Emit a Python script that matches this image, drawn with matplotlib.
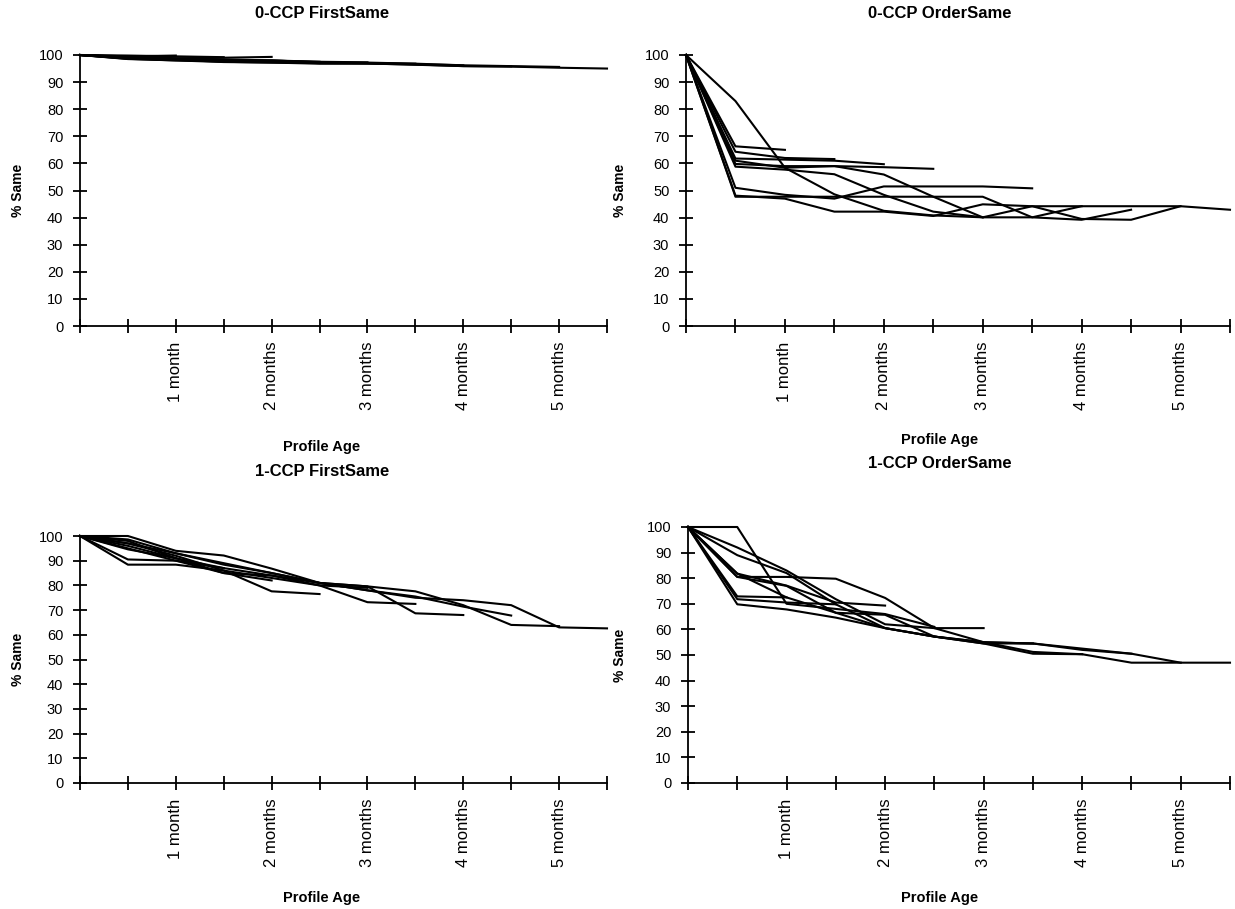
import matplotlib
matplotlib.use("Agg")
from matplotlib import pyplot as plt

plt.rcParams['font.family'] = ['Liberation Sans', 'DejaVu Sans']

TICK_LABELS = ['', '', '1 month', '', '2 months', '', '3 months', '', '4 months', '', '5 months', '']
Y_TICKS = list(range(0, 101, 10))

# each panel: one list per profile, starting at 100 and getting one point longer each time
FIRST_0 = [
    [100, 99.5, 99.8],
    [100, 99.8, 99.5, 99.2],
    [100, 99.0, 98.8, 99.0, 99.3],
    [100, 98.5, 98.0, 97.8, 98.0, 97.5],
    [100, 99.2, 98.5, 98.2, 97.9, 97.5, 97.3],
    [100, 98.8, 98.2, 97.5, 97.2, 97.0, 97.0, 96.8],
    [100, 99.0, 98.5, 98.0, 97.5, 97.2, 97.0, 96.6, 96.2],
    [100, 98.6, 98.0, 97.4, 97.2, 96.8, 96.8, 96.5, 95.9, 95.8],
    [100, 99.3, 98.8, 98.4, 98.0, 97.3, 97.2, 96.8, 96.2, 95.9, 95.6],
    [100, 98.7, 98.3, 97.8, 97.6, 97.0, 96.9, 96.4, 95.9, 95.7, 95.3, 95.0],
]

ORDER_0 = [
    [100, 66.3, 65.0],
    [100, 64.3, 62.0, 61.6],
    [100, 61.8, 61.4, 61.0, 59.7],
    [100, 59.8, 59.0, 59.0, 58.6, 58.0],
    [100, 58.8, 57.7, 56.0, 48.4, 42.2, 40.1],
    [100, 51.0, 48.4, 47.0, 51.5, 51.5, 51.5, 50.8],
    [100, 83.0, 58.4, 48.6, 42.5, 40.8, 40.1, 44.2, 44.2],
    [100, 61.0, 58.4, 59.0, 55.9, 47.7, 40.1, 40.1, 39.2, 42.9],
    [100, 48.1, 47.0, 42.2, 42.2, 40.6, 44.9, 44.2, 39.5, 39.2, 44.2],
    [100, 47.7, 47.7, 47.7, 47.7, 47.7, 47.7, 40.1, 44.2, 44.2, 44.2, 42.9],
]

FIRST_1 = [
    [100, 96.0, 91.0],
    [100, 95.0, 90.0, 87.0],
    [100, 98.0, 91.0, 85.0, 82.0],
    [100, 88.4, 88.4, 86.0, 77.6, 76.5],
    [100, 97.0, 92.0, 86.0, 83.0, 80.0, 79.0],
    [100, 90.5, 90.0, 85.0, 84.0, 80.0, 73.2, 72.5],
    [100, 98.6, 93.0, 88.4, 85.0, 81.0, 79.6, 68.7, 68.0],
    [100, 94.6, 91.0, 87.0, 84.0, 81.0, 78.0, 75.5, 71.4, 67.8],
    [100, 100, 94.0, 92.1, 86.8, 81.0, 79.6, 77.6, 72.0, 64.0, 63.5],
    [100, 97.0, 93.0, 89.0, 85.0, 81.0, 78.0, 75.0, 74.0, 72.0, 63.0, 62.6],
]

ORDER_1 = [
    [100, 72.9, 72.5],
    [100, 71.8, 70.5, 69.8],
    [100, 81.8, 77.1, 70.5, 69.3],
    [100, 100, 70.0, 68.0, 66.0, 61.0],
    [100, 80.5, 80.5, 79.8, 72.3, 60.5, 60.5],
    [100, 92.0, 83.0, 71.8, 62.0, 60.5, 55.0, 54.5],
    [100, 89.0, 82.0, 69.8, 60.5, 57.2, 55.0, 51.2, 50.3],
    [100, 81.8, 72.5, 66.5, 65.7, 57.2, 55.0, 54.5, 52.5, 50.5],
    [100, 69.8, 67.8, 64.6, 60.5, 57.2, 54.5, 50.5, 50.3, 47.0, 47.0],
    [100, 80.5, 77.0, 66.5, 60.5, 57.2, 54.5, 54.5, 52.0, 50.5, 47.0, 47.0],
]

W, H = 1235, 909


def px_rect(x0, x1, y_top, y_bot):
    return [x0 / W, 1 - y_bot / H, (x1 - x0) / W, (y_bot - y_top) / H]


def draw_panel(fig, rect, series, title, title_y, xlabel_y, text_cx, ylabel_x):
    ax = fig.add_axes(rect)
    for s in series:
        ax.plot(range(len(s)), s, color='black', lw=1.5, clip_on=False)
    ax.set_xlim(0, 11)
    ax.set_ylim(0, 100)
    ax.spines['top'].set_visible(False)
    ax.spines['right'].set_visible(False)
    for side in ['left', 'bottom']:
        ax.spines[side].set_linewidth(1.3)
    ax.set_xticks(range(12))
    ax.set_xticklabels(TICK_LABELS, rotation=90, va='top')
    ax.set_yticks(Y_TICKS)
    ax.tick_params(direction='inout', length=10, width=1.3)
    ax.tick_params(axis='x', labelsize=12, pad=6)
    ax.tick_params(axis='y', labelsize=10.5, pad=7)

    # titles / labels placed in figure pixels like the original sheet
    cx = text_cx / W
    fig.text(cx, 1 - title_y / H, title, ha='center', va='center',
             fontsize=12, fontweight='bold')
    fig.text(cx, 1 - xlabel_y / H, 'Profile Age', ha='center', va='center',
             fontsize=10.5, fontweight='bold')
    cy = rect[1] + rect[3] / 2
    fig.text(ylabel_x / W, cy, '% Same', ha='center', va='center', rotation=90,
             fontsize=10, fontweight='bold')
    return ax


fig = plt.figure(figsize=(12.35, 9.09), dpi=100)

draw_panel(fig, px_rect(80, 607, 55, 326), FIRST_0, '0-CCP FirstSame', 14, 447, 322, 18)
draw_panel(fig, px_rect(686, 1230, 55, 326), ORDER_0, '0-CCP OrderSame', 14, 440, 940, 620)
draw_panel(fig, px_rect(80, 607, 536, 783), FIRST_1, '1-CCP FirstSame', 472, 898, 322, 18)
draw_panel(fig, px_rect(688, 1230, 527, 783), ORDER_1, '1-CCP OrderSame', 463, 898, 940, 620)

fig.savefig('out.png', dpi=100)
